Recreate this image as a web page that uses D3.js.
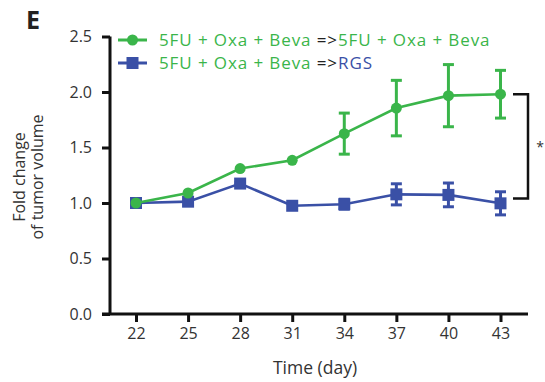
<!DOCTYPE html>
<html><head><meta charset="utf-8">
<script src="https://cdn.jsdelivr.net/npm/d3@7"></script>
<style>body{margin:0;background:#fff}svg{display:block}text{font-family:"Open Sans",sans-serif}</style>
</head><body><svg id="c" width="545" height="382"></svg>
<script>
const days = [22, 25, 28, 31, 34, 37, 40, 43];
const greenMean = [1.0, 1.09, 1.31, 1.385, 1.625, 1.855, 1.967, 1.98];
const greenErr  = [0, 0, 0, 0, 0.185, 0.25, 0.28, 0.215];
const blueMean  = [1.0, 1.012, 1.175, 0.975, 0.989, 1.078, 1.073, 0.997];
const blueErr   = [0, 0, 0.01, 0, 0.045, 0.095, 0.107, 0.104];
const yTicks = [0.0, 0.5, 1.0, 1.5, 2.0, 2.5];
const legendLabels = [
  {pre: "5FU + Oxa + Beva ", post: "5FU + Oxa + Beva", series: "green"},
  {pre: "5FU + Oxa + Beva ", post: "RGS", series: "blue"}
];
const bracketRange = [1.04, 1.98];
const GREEN = "#3ab54a", BLUE = "#3a50a6";

const svg = d3.select("#c");
const x = d3.scaleLinear().domain([22, 43]).range([136, 500.5]);
const y = d3.scaleLinear().domain([0, 2.5]).range([314, 36.5]);

// axes
const yAxis = d3.axisLeft(y).tickValues(yTicks).tickFormat(d3.format(".1f")).tickSize(8).tickPadding(10);
const gy = svg.append("g").attr("transform", "translate(110,0)").call(yAxis);
gy.select(".domain").attr("d", `M0,${y(2.5)}V${y(0)}`);
const xAxis = d3.axisBottom(x).tickValues(days).tickSize(8).tickPadding(6);
const gx = svg.append("g").attr("transform", `translate(0,${y(0)})`).call(xAxis);
gx.select(".domain").attr("d", `M102,0H528`);
[gx, gy].forEach(g => {
  g.selectAll(".domain").attr("stroke", "#111").attr("stroke-width", 3).attr("fill", "none");
  g.selectAll(".tick line").attr("stroke", "#111").attr("stroke-width", 3);
  g.selectAll(".tick text").attr("fill", "#333").style("font-size", "16px").style("font-family", "Open Sans");
});
gy.selectAll(".tick line").attr("x2", -8);

// axis titles
svg.append("text").attr("x", 315).attr("y", 374).attr("text-anchor", "middle")
  .attr("fill", "#333").style("font-size", "17.5px").text("Time (day)");
const yt = svg.append("text").attr("transform", "translate(0,177) rotate(-90)")
  .attr("text-anchor", "middle").attr("fill", "#333").style("font-size", "16px");
yt.append("tspan").attr("x", 0).attr("y", 25).text("Fold change");
yt.append("tspan").attr("x", 0).attr("y", 43).text("of tumor volume");

svg.append("text").attr("x", 26).attr("y", 29).attr("fill", "#222")
  .style("font-size", "25px").style("font-weight", "bold").text("E");

function drawSeries(mean, err, color, shape) {
  const g = svg.append("g");
  const line = d3.line().x((d, i) => x(days[i])).y(d => y(d));
  g.append("path").datum(mean).attr("d", line).attr("fill", "none")
    .attr("stroke", color).attr("stroke-width", 2.6);
  days.forEach((d, i) => {
    if (err[i] > 0) {
      const cx = x(d), t = y(mean[i] + err[i]), b = y(mean[i] - err[i]);
      g.append("line").attr("x1", cx).attr("x2", cx).attr("y1", t).attr("y2", b)
        .attr("stroke", color).attr("stroke-width", 3);
      [t, b].forEach(yy => g.append("line").attr("x1", cx - 5.5).attr("x2", cx + 5.5)
        .attr("y1", yy).attr("y2", yy).attr("stroke", color).attr("stroke-width", 3));
    }
    if (shape === "circle") {
      g.append("circle").attr("cx", x(d)).attr("cy", y(mean[i])).attr("r", 5.5).attr("fill", color);
    } else {
      g.append("rect").attr("x", x(d) - 6).attr("y", y(mean[i]) - 6).attr("width", 12).attr("height", 12).attr("fill", color);
    }
  });
}
drawSeries(blueMean, blueErr, BLUE, "rect");
drawSeries(greenMean, greenErr, GREEN, "circle");

// legend
legendLabels.forEach((l, i) => {
  const ly = 40 + i * 23;
  const col = l.series === "green" ? GREEN : BLUE;
  svg.append("line").attr("x1", 118).attr("x2", 147).attr("y1", ly).attr("y2", ly)
    .attr("stroke", col).attr("stroke-width", 3);
  if (l.series === "green") svg.append("circle").attr("cx", 132.5).attr("cy", ly).attr("r", 5.5).attr("fill", col);
  else svg.append("rect").attr("x", 126.5).attr("y", ly - 6).attr("width", 12).attr("height", 12).attr("fill", col);
  const t = svg.append("text").attr("x", 159).attr("y", ly + 6)
    .style("font-size", "17px").style("letter-spacing", "0.9px");
  t.append("tspan").attr("fill", GREEN).text(l.pre);
  t.append("tspan").attr("fill", "#222").text("=>");
  t.append("tspan").attr("fill", col).text(l.post);
});

// significance bracket
const by0 = y(bracketRange[1]), by1 = y(bracketRange[0]);
svg.append("path").attr("d", `M513,${by0}H528V${by1}H513`).attr("fill", "none")
  .attr("stroke", "#111").attr("stroke-width", 2.5);
svg.append("text").attr("x", 540).attr("y", (by0 + by1) / 2 + 6).attr("text-anchor", "middle")
  .attr("fill", "#333").style("font-size", "14px").text("*");
</script></body></html>
